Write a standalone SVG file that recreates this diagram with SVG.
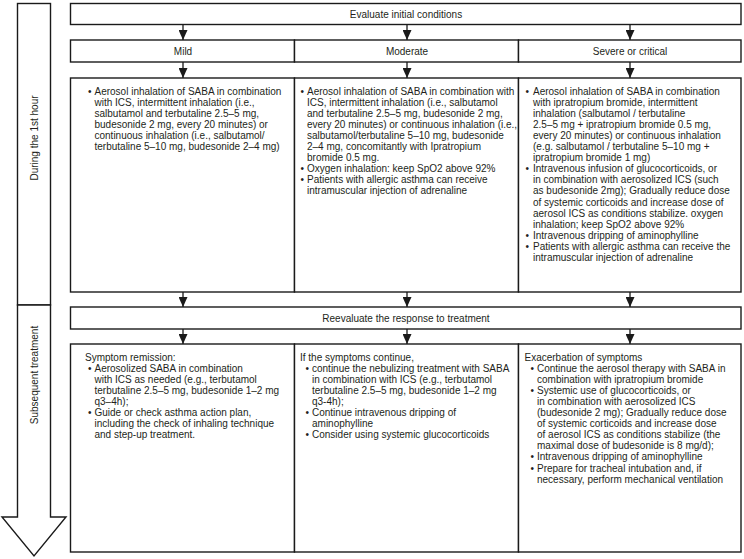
<svg xmlns="http://www.w3.org/2000/svg" width="744" height="559" viewBox="0 0 744 559">
<style>
.box{fill:#fff;stroke:#1a1a1a;stroke-width:1.4}
.t{font-family:"Liberation Sans",Arial,sans-serif;font-size:10px;fill:#231f20}
.c{text-anchor:middle}
.ar{stroke:#1a1a1a;stroke-width:1.3;fill:none}
</style>
<defs>
<marker id="ah" markerWidth="10" markerHeight="9" refX="10" refY="4.5" orient="auto" markerUnits="userSpaceOnUse" viewBox="0 0 10 9"><path d="M0,0 L10,4.5 L0,9 z" fill="#1a1a1a"/></marker>
</defs>
<rect width="744" height="559" fill="#fff"/>

<g id="phase1">
<rect class="box" x="17.5" y="3.5" width="33" height="301.5"/>
<text class="t c" transform="translate(38,138) rotate(-90)">During the 1st hour</text>
</g>
<g id="phase2">
<path class="box" d="M17.5,305 L50.5,305 L50.5,517 L66,517 L34,556 L2,517 L17.5,517 Z"/>
<text class="t c" transform="translate(38,375) rotate(-90)">Subsequent treatment</text>
</g>

<g id="evaluate">
<rect class="box" x="70.5" y="3.5" width="670.5" height="21"/>
<text class="t c" x="406" y="17.5">Evaluate initial conditions</text>
</g>
<g id="mild">
<rect class="box" x="70.5" y="40" width="224" height="22"/>
<text class="t c" x="183" y="54.5">Mild</text>
</g>
<g id="moderate">
<rect class="box" x="294.5" y="40" width="224" height="22"/>
<text class="t c" x="407" y="54.5">Moderate</text>
</g>
<g id="severe">
<rect class="box" x="518.5" y="40" width="222.5" height="22"/>
<text class="t c" x="630" y="54.5">Severe or critical</text>
</g>

<g id="mild-first-hour">
<rect class="box" x="70.5" y="78" width="224" height="214"/>
<text class="t" x="88" y="94.5">•</text>
<text class="t" x="94.5" y="94.5">Aerosol inhalation of SABA in combination</text>
<text class="t" x="94.5" y="105.6">with ICS, intermittent inhalation (i.e.,</text>
<text class="t" x="94.5" y="116.7">salbutamol and terbutaline 2.5–5 mg,</text>
<text class="t" x="94.5" y="127.8">budesonide 2 mg, every 20 minutes) or</text>
<text class="t" x="94.5" y="138.9">continuous inhalation (i.e., salbutamol/</text>
<text class="t" x="94.5" y="150">terbutaline 5–10 mg, budesonide 2–4 mg)</text>
</g>

<g id="moderate-first-hour">
<rect class="box" x="294.5" y="78" width="224" height="214"/>
<text class="t" x="300.5" y="94.5">•</text>
<text class="t" x="307" y="94.5">Aerosol inhalation of SABA in combination with</text>
<text class="t" x="307" y="105.6">ICS, intermittent inhalation (i.e., salbutamol</text>
<text class="t" x="307" y="116.7">and terbutaline 2.5–5 mg, budesonide 2 mg,</text>
<text class="t" x="307" y="127.8">every 20 minutes) or continuous inhalation (i.e.,</text>
<text class="t" x="307" y="138.9">salbutamol/terbutaline 5–10 mg, budesonide</text>
<text class="t" x="307" y="150">2–4 mg, concomitantly with Ipratropium</text>
<text class="t" x="307" y="161.1">bromide 0.5 mg.</text>
<text class="t" x="300.5" y="172.2">•</text>
<text class="t" x="307" y="172.2">Oxygen inhalation: keep SpO2 above 92%</text>
<text class="t" x="300.5" y="183.3">•</text>
<text class="t" x="307" y="183.3">Patients with allergic asthma can receive</text>
<text class="t" x="307" y="194.4">intramuscular injection of adrenaline</text>
</g>

<g id="severe-first-hour">
<rect class="box" x="518.5" y="78" width="222.5" height="214"/>
<text class="t" x="525.5" y="94.5">•</text>
<text class="t" x="533" y="94.5">Aerosol inhalation of SABA in combination</text>
<text class="t" x="533" y="105.6">with ipratropium bromide, intermittent</text>
<text class="t" x="533" y="116.7">inhalation (salbutamol / terbutaline</text>
<text class="t" x="533" y="127.8">2.5–5 mg + ipratropium bromide 0.5 mg,</text>
<text class="t" x="533" y="138.9">every 20 minutes) or continuous inhalation</text>
<text class="t" x="533" y="150">(e.g. salbutamol / terbutaline 5–10 mg +</text>
<text class="t" x="533" y="161.1">ipratropium bromide 1 mg)</text>
<text class="t" x="525.5" y="172.2">•</text>
<text class="t" x="533" y="172.2">Intravenous infusion of glucocorticoids, or</text>
<text class="t" x="533" y="183.3">in combination with aerosolized ICS (such</text>
<text class="t" x="533" y="194.4">as budesonide 2mg); Gradually reduce dose</text>
<text class="t" x="533" y="205.5">of systemic corticoids and increase dose of</text>
<text class="t" x="533" y="216.6">aerosol ICS as conditions stabilize. oxygen</text>
<text class="t" x="533" y="227.7">inhalation; keep SpO2 above 92%</text>
<text class="t" x="525.5" y="238.8">•</text>
<text class="t" x="533" y="238.8">Intravenous dripping of aminophylline</text>
<text class="t" x="525.5" y="249.9">•</text>
<text class="t" x="533" y="249.9">Patients with allergic asthma can receive the</text>
<text class="t" x="533" y="261">intramuscular injection of adrenaline</text>
</g>

<g id="reevaluate">
<rect class="box" x="70.5" y="307" width="670.5" height="22"/>
<text class="t c" x="406" y="321.5">Reevaluate the response to treatment</text>
</g>

<g id="mild-subsequent">
<rect class="box" x="70.5" y="344" width="224" height="208"/>
<text class="t" x="85" y="360.5">Symptom remission:</text>
<text class="t" x="88" y="371.6">•</text>
<text class="t" x="94.5" y="371.6">Aerosolized SABA in combination</text>
<text class="t" x="94.5" y="382.7">with ICS as needed (e.g., terbutamol</text>
<text class="t" x="94.5" y="393.8">terbutaline 2.5–5 mg, budesonide 1–2 mg</text>
<text class="t" x="94.5" y="404.9">q3–4h);</text>
<text class="t" x="88" y="416">•</text>
<text class="t" x="94.5" y="416">Guide or check asthma action plan,</text>
<text class="t" x="94.5" y="427.1">including the check of inhaling technique</text>
<text class="t" x="94.5" y="438.2">and step-up treatment.</text>
</g>

<g id="moderate-subsequent">
<rect class="box" x="294.5" y="344" width="224" height="208"/>
<text class="t" x="300" y="360.5">If the symptoms continue,</text>
<text class="t" x="305.5" y="371.6">•</text>
<text class="t" x="312" y="371.6">continue the nebulizing treatment with SABA</text>
<text class="t" x="312" y="382.7">in combination with ICS (e.g., terbutamol</text>
<text class="t" x="312" y="393.8">terbutaline 2.5–5 mg, budesonide 1–2 mg</text>
<text class="t" x="312" y="404.9">q3-4h);</text>
<text class="t" x="305.5" y="416">•</text>
<text class="t" x="312" y="416">Continue intravenous dripping of</text>
<text class="t" x="312" y="427.1">aminophylline</text>
<text class="t" x="305.5" y="438.2">•</text>
<text class="t" x="312" y="438.2">Consider using systemic glucocorticoids</text>
</g>

<g id="severe-subsequent">
<rect class="box" x="518.5" y="344" width="222.5" height="208"/>
<text class="t" x="524.5" y="360.5">Exacerbation of symptoms</text>
<text class="t" x="530.5" y="371.6">•</text>
<text class="t" x="537" y="371.6">Continue the aerosol therapy with SABA in</text>
<text class="t" x="537" y="382.7">combination with ipratropium bromide</text>
<text class="t" x="530.5" y="393.8">•</text>
<text class="t" x="537" y="393.8">Systemic use of glucocorticoids, or</text>
<text class="t" x="537" y="404.9">in combination with aerosolized ICS</text>
<text class="t" x="537" y="416">(budesonide 2 mg); Gradually reduce dose</text>
<text class="t" x="537" y="427.1">of systemic corticoids and increase dose</text>
<text class="t" x="537" y="438.2">of aerosol ICS as conditions stabilize (the</text>
<text class="t" x="537" y="449.3">maximal dose of budesonide is 8 mg/d);</text>
<text class="t" x="530.5" y="460.4">•</text>
<text class="t" x="537" y="460.4">Intravenous dripping of aminophylline</text>
<text class="t" x="530.5" y="471.5">•</text>
<text class="t" x="537" y="471.5">Prepare for tracheal intubation and, if</text>
<text class="t" x="537" y="482.6">necessary, perform mechanical ventilation</text>
</g>

<g id="connectors">
<line class="ar" x1="183" y1="24.5" x2="183" y2="40" marker-end="url(#ah)"/>
<line class="ar" x1="407" y1="24.5" x2="407" y2="40" marker-end="url(#ah)"/>
<line class="ar" x1="630" y1="24.5" x2="630" y2="40" marker-end="url(#ah)"/>
<line class="ar" x1="183" y1="62" x2="183" y2="78" marker-end="url(#ah)"/>
<line class="ar" x1="407" y1="62" x2="407" y2="78" marker-end="url(#ah)"/>
<line class="ar" x1="630" y1="62" x2="630" y2="78" marker-end="url(#ah)"/>
<line class="ar" x1="183" y1="292" x2="183" y2="307" marker-end="url(#ah)"/>
<line class="ar" x1="407" y1="292" x2="407" y2="307" marker-end="url(#ah)"/>
<line class="ar" x1="630" y1="292" x2="630" y2="307" marker-end="url(#ah)"/>
<line class="ar" x1="183" y1="329" x2="183" y2="344" marker-end="url(#ah)"/>
<line class="ar" x1="407" y1="329" x2="407" y2="344" marker-end="url(#ah)"/>
<line class="ar" x1="630" y1="329" x2="630" y2="344" marker-end="url(#ah)"/>
</g>
</svg>
